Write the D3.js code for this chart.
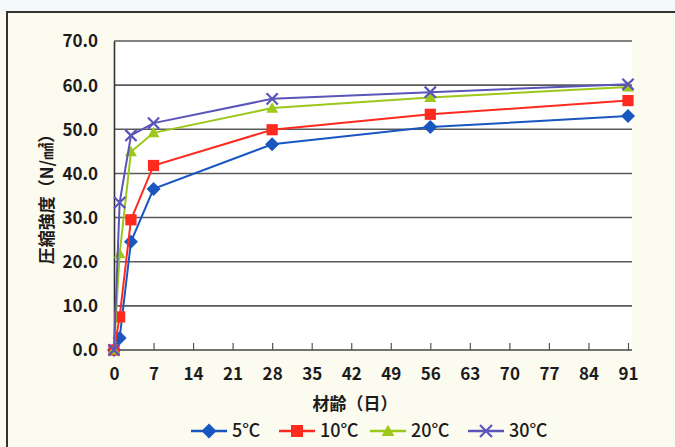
<!DOCTYPE html>
<html><head><meta charset="utf-8">
<script src="https://cdn.jsdelivr.net/npm/d3@7"></script>
<style>
html,body{margin:0;padding:0;background:#fcfbf0;}
svg{display:block;}
text{font-family:"Noto Sans CJK JP","Noto Sans",sans-serif;fill:#1c1c1c;}
</style></head>
<body>
<script>
const days = [0, 1, 3, 7, 28, 56, 91];
const s5  = [0, 2.7, 24.5, 36.5, 46.6, 50.5, 53.0];
const s10 = [0, 7.5, 29.5, 41.8, 49.9, 53.4, 56.5];
const s20 = [0, 21.8, 44.9, 49.2, 54.8, 57.2, 59.6];
const s30 = [0, 33.4, 48.6, 51.4, 56.9, 58.4, 60.2];
const seriesNames = ["5℃", "10℃", "20℃", "30℃"];
const seriesColors = ["#1a56c0", "#ff2a1f", "#9bc81a", "#5a55b8"];
const seriesShapes = ["diamond", "square", "triangle", "x"];
const xTicks = [0, 7, 14, 21, 28, 35, 42, 49, 56, 63, 70, 77, 84, 91];
const yTicks = [0, 10, 20, 30, 40, 50, 60, 70];
const xTitle = "材齢（日）";
const yTitle = "圧縮強度（N/㎟）";

const W = 675, H = 447;
const svg = d3.select("body").append("svg").attr("width", W).attr("height", H);
svg.append("rect").attr("width", W).attr("height", H).attr("fill", "#fcfbf0");
svg.append("rect").attr("width", W).attr("height", 11).attr("fill", "#f4fafa");
// figure frame
svg.append("path").attr("d", `M7,${H} L7,12 L${W},12`).attr("fill", "none").attr("stroke", "#333").attr("stroke-width", 2);

const x = d3.scaleLinear().domain([0, 91]).range([114, 628]);
const y = d3.scaleLinear().domain([0, 70]).range([350, 41]);
const plotR = 632;

svg.append("rect").attr("x", 114).attr("y", y(70)).attr("width", plotR - 114).attr("height", y(0) - y(70)).attr("fill", "#ffffff");

// gridlines
svg.append("g").selectAll("line").data(yTicks.filter(d => d > 0)).join("line")
  .attr("x1", 114).attr("x2", plotR).attr("y1", d => y(d)).attr("y2", d => y(d))
  .attr("stroke", "#5a5a5a").attr("stroke-width", 1.6);

// y axis
const yAxis = d3.axisLeft(y).tickValues(yTicks).tickFormat(d3.format(".1f")).tickSize(0).tickPadding(16);
const gy = svg.append("g").attr("transform", "translate(114,0)").call(yAxis);
gy.select(".domain").attr("stroke", "#333").attr("stroke-width", 1.6);
gy.selectAll("text").attr("font-size", 17).attr("font-weight", 600).attr("fill", "#1c1c1c").attr("dy", "0.35em");

// x axis
const xAxis = d3.axisBottom(x).tickValues(xTicks).tickSize(0).tickPadding(18);
const gx = svg.append("g").attr("transform", `translate(0,${y(0)})`).call(xAxis);
gx.select(".domain").attr("stroke", "#444").attr("stroke-width", 1.6).attr("d", `M114,0H${plotR}`);
gx.selectAll("text").attr("font-size", 17).attr("font-weight", 600).attr("fill", "#1c1c1c");
gx.selectAll(".tick").append("line").attr("y1", 0).attr("y2", -7).attr("stroke", "#555").attr("stroke-width", 1.2);

// axis titles
svg.append("text").attr("x", 355).attr("y", 404).attr("dy", "0.35em").attr("text-anchor", "middle")
  .attr("font-size", 17).attr("font-weight", 700).text(xTitle);
svg.append("text").attr("transform", "translate(47,195) rotate(-90)").attr("text-anchor", "middle")
  .attr("dy", "0.35em").attr("font-size", 17).attr("font-weight", 700).text(yTitle);

function marker(g, shape, color, size) {
  const s = size;
  if (shape === "diamond") {
    g.append("path").attr("d", `M0,${-s}L${s},0L0,${s}L${-s},0Z`).attr("fill", color);
  } else if (shape === "square") {
    g.append("rect").attr("x", -s * 0.8).attr("y", -s * 0.8).attr("width", s * 1.6).attr("height", s * 1.6).attr("fill", color);
  } else if (shape === "triangle") {
    g.append("path").attr("d", `M0,${-s * 0.85}L${s * 0.85},${s * 0.65}L${-s * 0.85},${s * 0.65}Z`).attr("fill", color);
  } else {
    const k = s * 0.8;
    g.append("path").attr("d", `M${-k},${-k}L${k},${k}M${-k},${k}L${k},${-k}`).attr("stroke", color).attr("stroke-width", 2.2);
  }
}

const allSeries = [s5, s10, s20, s30];
const line = d3.line().x((d, i) => x(days[i])).y(d => y(d));
allSeries.forEach((vals, si) => {
  const g = svg.append("g");
  g.append("path").datum(vals).attr("d", line).attr("fill", "none")
    .attr("stroke", seriesColors[si]).attr("stroke-width", 2);
  vals.forEach((v, i) => {
    const m = g.append("g").attr("transform", `translate(${x(days[i])},${y(v)})`);
    marker(m, seriesShapes[si], seriesColors[si], 7);
  });
});

// legend
const legX = [191, 279, 370, 468];
const legY = 431;
seriesNames.forEach((n, i) => {
  const g = svg.append("g").attr("transform", `translate(${legX[i]},${legY})`);
  g.append("line").attr("x1", 0).attr("x2", 36).attr("stroke", seriesColors[i]).attr("stroke-width", 2.5);
  const m = g.append("g").attr("transform", "translate(18,0)");
  marker(m, seriesShapes[i], seriesColors[i], 7.5);
  g.append("text").attr("x", 41).attr("y", 0).attr("dy", "0.35em").attr("font-size", 18).attr("font-weight", 500).text(n);
});
</script>
</body></html>
